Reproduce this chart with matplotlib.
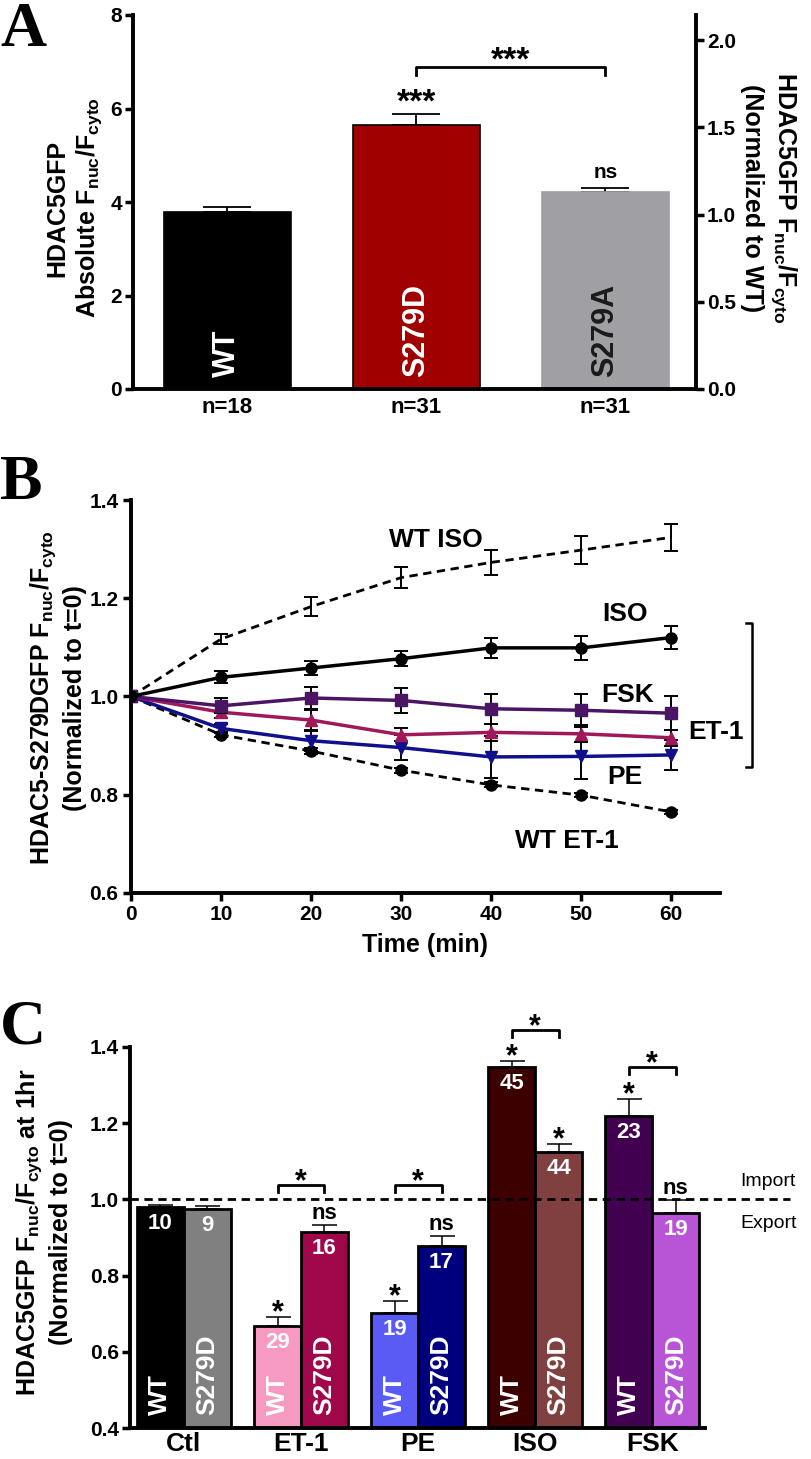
import matplotlib
matplotlib.use("Agg")
import matplotlib.pyplot as plt
import numpy as np

# ---------------- data ----------------
# Panel A
a_labels = ['WT', 'S279D', 'S279A']
a_ticks = ['n=18', 'n=31', 'n=31']
a_vals = [3.78, 5.64, 4.21]
a_err = [0.11, 0.24, 0.09]
a_colors = ['#000000', '#A00000', '#A0A0A4']
a_text_colors = ['white', 'white', '#1a1a1a']

# Panel B
b_time = [0, 10, 20, 30, 40, 50, 60]
b_wt_iso = [1.0, 1.117, 1.183, 1.242, 1.273, 1.298, 1.324]
b_wt_iso_err = [0, 0.011, 0.019, 0.022, 0.025, 0.028, 0.027]
b_iso = [1.0, 1.039, 1.058, 1.077, 1.099, 1.099, 1.120]
b_iso_err = [0, 0.012, 0.015, 0.015, 0.021, 0.024, 0.024]
b_fsk = [1.0, 0.981, 0.997, 0.992, 0.975, 0.972, 0.966]
b_fsk_err = [0, 0.015, 0.023, 0.025, 0.030, 0.034, 0.034]
b_et1 = [1.0, 0.968, 0.952, 0.922, 0.927, 0.924, 0.916]
b_et1_err = [0, 0.012, 0.020, 0.013, 0.017, 0.017, 0.016]
b_pe = [1.0, 0.935, 0.910, 0.896, 0.877, 0.878, 0.881]
b_pe_err = [0, 0.010, 0.020, 0.025, 0.042, 0.045, 0.030]
b_wt_et1 = [1.0, 0.922, 0.889, 0.850, 0.820, 0.799, 0.765]
b_wt_et1_err = [0, 0.005, 0.006, 0.005, 0.005, 0.004, 0.004]

# Panel C
c_groups = ['Ctl', 'ET-1', 'PE', 'ISO', 'FSK']
c_wt = [0.981, 0.668, 0.701, 1.348, 1.218]
c_wt_err = [0.003, 0.023, 0.033, 0.015, 0.046]
c_mut = [0.974, 0.915, 0.878, 1.125, 0.963]
c_mut_err = [0.008, 0.018, 0.027, 0.020, 0.035]
c_wt_n = ['10', '29', '19', '45', '23']
c_mut_n = ['9', '16', '17', '44', '19']
c_wt_sig = ['', '*', '*', '*', '*']
c_mut_sig = ['', 'ns', 'ns', '*', 'ns']
c_pair_sig = ['', '*', '*', '*', '*']
c_pair_y = [None, 1.0375, 1.0375, 1.444, 1.348]
c_wt_colors = ['#000000', '#F79AC2', '#5A5AF5', '#3D0000', '#420050']
c_mut_colors = ['#808080', '#A0074A', '#00007F', '#80403F', '#B855D6']

# ---------------- style ----------------
plt.rcParams['mathtext.fontset'] = 'custom'
plt.rcParams['mathtext.rm'] = 'Liberation Sans:bold'
plt.rcParams['mathtext.bf'] = 'Liberation Sans:bold'
plt.rcParams['mathtext.it'] = 'Liberation Sans:bold'
plt.rcParams['mathtext.default'] = 'bf'
NARROW = ['Liberation Sans Narrow', 'Liberation Sans', 'DejaVu Sans']
SANS = ['Liberation Sans', 'DejaVu Sans']
SERIF = ['Liberation Serif', 'DejaVu Serif']
plt.rcParams['font.family'] = NARROW

W, H = 812, 1459
fig = plt.figure(figsize=(W/100, H/100), dpi=100)

def style_ticks(ax, size=15):
    for lab in ax.get_xticklabels() + ax.get_yticklabels():
        lab.set_fontfamily(NARROW)
        lab.set_fontweight('bold')
        lab.set_fontsize(size)

def side_label(x, y, s, rot=90):
    fig.text(x / W, 1 - y / H, s, rotation=rot, ha='center', va='center',
             multialignment='center', fontsize=18, fontweight='bold',
             family=SANS, linespacing=1.25)

# ================= Panel A =================
axA = fig.add_axes([133/W, 1-389/H, (696-133)/W, (389-15)/H])
xa = np.arange(len(a_labels))
axA.bar(xa, a_vals, width=0.67, color=a_colors,
        edgecolor=['black', 'black', a_colors[2]], linewidth=1.2, zorder=2)
for i in range(len(xa)):
    axA.errorbar(xa[i], a_vals[i], yerr=[[0], [a_err[i]]], fmt='none',
                 ecolor='black', elinewidth=1.3, capsize=17, capthick=1.3, zorder=1)
    axA.text(xa[i], 0.25, a_labels[i], rotation=90, ha='center', va='bottom',
             color=a_text_colors[i], fontsize=22, fontweight='bold', family=SANS)
axA.set_xlim(-0.5, 2.48)
axA.set_ylim(0, 8)
axA.set_yticks([0, 2, 4, 6, 8])
axA.set_xticks(xa)
axA.set_xticklabels(a_ticks)
axA.tick_params(axis='x', length=0, pad=6)
axA.tick_params(axis='y', length=6, width=2.5, direction='out', pad=2)
for s in ['top', 'right']:
    axA.spines[s].set_visible(False)
for s in ['left', 'bottom']:
    axA.spines[s].set_linewidth(2.8)
style_ticks(axA, 15)
for lab in axA.get_xticklabels():
    lab.set_fontsize(16)
side_label(75, 208, 'HDAC5GFP\nAbsolute F$_{nuc}$/F$_{cyto}$')
# significance
axA.text(1, 5.78, '***', ha='center', va='bottom', fontsize=24, fontweight='bold', family=SANS)
axA.text(2, 4.42, 'ns', ha='center', va='bottom', fontsize=15, fontweight='bold', family=NARROW)
axA.plot([1, 1, 2, 2], [6.71, 6.88, 6.88, 6.71], color='black', lw=2)
axA.text(1.5, 6.68, '***', ha='center', va='bottom', fontsize=24, fontweight='bold', family=SANS)

axA2 = axA.twinx()
axA2.set_ylim(0, 8/3.73)
axA2.set_yticks([0.0, 0.5, 1.0, 1.5, 2.0])
axA2.set_yticklabels(['0.0', '0.5', '1.0', '1.5', '2.0'])
for s in ['top', 'left', 'bottom']:
    axA2.spines[s].set_visible(False)
axA2.spines['right'].set_linewidth(2.8)
axA2.tick_params(axis='y', length=6, width=2.5, direction='out', pad=2)
style_ticks(axA2, 15)
side_label(769, 198, 'HDAC5GFP F$_{nuc}$/F$_{cyto}$\n(Normalized to WT)', rot=270)

fig.text(0.0, 1-2/H, 'A', fontsize=46, fontweight='bold', family=SERIF, va='top', ha='left')

# ================= Panel B =================
axB = fig.add_axes([131/W, 1-893/H, (720-131)/W, (893-500)/H])
eb_kw = dict(capsize=5, elinewidth=1.4, capthick=1.4)
axB.errorbar(b_time, b_wt_iso, yerr=b_wt_iso_err, color='black', ls=(0, (3, 2)),
             lw=2, marker='', **eb_kw, zorder=3)
axB.errorbar(b_time, b_wt_et1, yerr=b_wt_et1_err, color='black', ls=(0, (3, 2)),
             lw=2, marker='o', ms=8, **eb_kw, zorder=3)
axB.errorbar(b_time, b_pe, yerr=b_pe_err, color='#10108C', ecolor='black', lw=2.5,
             marker='v', ms=8, **eb_kw, zorder=4)
axB.errorbar(b_time, b_et1, yerr=b_et1_err, color='#A0185A', ecolor='black', lw=2.5,
             marker='^', ms=8, **eb_kw, zorder=5)
axB.errorbar(b_time, b_fsk, yerr=b_fsk_err, color='#4B1464', ecolor='black', lw=2.5,
             marker='s', ms=8, **eb_kw, zorder=6)
axB.errorbar(b_time, b_iso, yerr=b_iso_err, color='black', ecolor='black', lw=2.5,
             marker='o', ms=8, **eb_kw, zorder=7)
axB.set_xlim(0, 65.4)
axB.set_ylim(0.6, 1.4)
axB.set_xticks(b_time)
axB.set_yticks([0.6, 0.8, 1.0, 1.2, 1.4])
axB.set_yticklabels(['0.6', '0.8', '1.0', '1.2', '1.4'])
for s in ['top', 'right']:
    axB.spines[s].set_visible(False)
for s in ['left', 'bottom']:
    axB.spines[s].set_linewidth(2.8)
axB.tick_params(axis='both', length=6, width=2.5, direction='out', pad=3)
style_ticks(axB, 15)
axB.set_xlabel('Time (min)', fontsize=18, fontweight='bold', family=NARROW, labelpad=6)
side_label(58, 698, 'HDAC5-S279DGFP F$_{nuc}$/F$_{cyto}$\n(Normalized to t=0)')
lab_kw = dict(fontsize=19, fontweight='bold', family=NARROW, ha='center', va='center')
axB.text(33.8, 1.319, 'WT ISO', **lab_kw)
axB.text(54.8, 1.167, 'ISO', **lab_kw)
axB.text(55.1, 1.004, 'FSK', **lab_kw)
axB.text(65.0, 0.927, 'ET-1', **lab_kw)
axB.text(54.8, 0.837, 'PE', **lab_kw)
axB.text(48.4, 0.705, 'WT ET-1', **lab_kw)
axB.plot([68.3, 69.0, 69.0, 68.3], [1.149, 1.149, 0.856, 0.856], color='black', lw=1.8,
         clip_on=False)

fig.text(0.0, 1-455/H, 'B', fontsize=46, fontweight='bold', family=SERIF, va='top', ha='left')

# ================= Panel C =================
axC = fig.add_axes([130/W, 1-1428/H, (705-130)/W, (1428-1047)/H])
xc = np.arange(len(c_groups))
bw = 0.40
xw = xc - bw/2
xm = xc + bw/2
axC.bar(xw, np.array(c_wt) - 0.4, bottom=0.4, width=bw, color=c_wt_colors,
        edgecolor='black', linewidth=2, zorder=2)
axC.bar(xm, np.array(c_mut) - 0.4, bottom=0.4, width=bw, color=c_mut_colors,
        edgecolor='black', linewidth=2, zorder=2)
for i in range(len(xc)):
    axC.errorbar(xw[i], c_wt[i], yerr=[[0], [c_wt_err[i]]], fmt='none', ecolor='black',
                 elinewidth=1.1, capsize=9, capthick=1.1, zorder=1)
    axC.errorbar(xm[i], c_mut[i], yerr=[[0], [c_mut_err[i]]], fmt='none', ecolor='black',
                 elinewidth=1.1, capsize=9, capthick=1.1, zorder=1)
    axC.text(xw[i], c_wt[i] - 0.043, c_wt_n[i], ha='center', va='center', color='white',
             fontsize=16, fontweight='bold', family=NARROW, zorder=3)
    axC.text(xm[i], c_mut[i] - 0.043, c_mut_n[i], ha='center', va='center', color='white',
             fontsize=16, fontweight='bold', family=NARROW, zorder=3)
    axC.text(xw[i], 0.434, 'WT', rotation=90, ha='center', va='bottom', color='white',
             fontsize=19, fontweight='bold', family=SANS, zorder=3)
    axC.text(xm[i], 0.434, 'S279D', rotation=90, ha='center', va='bottom', color='white',
             fontsize=19, fontweight='bold', family=SANS, zorder=3)
    for xx, v, e, s in [(xw[i], c_wt[i], c_wt_err[i], c_wt_sig[i]),
                        (xm[i], c_mut[i], c_mut_err[i], c_mut_sig[i])]:
        if s == '*':
            axC.text(xx, v + e + 0.009, s, ha='center', va='center', fontsize=22,
                     fontweight='bold', family=SANS)
        elif s == 'ns':
            axC.text(xx, v + e + 0.03, s, ha='center', va='center', fontsize=16,
                     fontweight='bold', family=NARROW)
    if c_pair_sig[i]:
        yb = c_pair_y[i]
        axC.plot([xw[i], xw[i], xm[i], xm[i]], [yb - 0.018, yb, yb, yb - 0.018],
                 color='black', lw=2, clip_on=False)
        axC.text(xc[i], yb + 0.007, c_pair_sig[i], ha='center', va='center', fontsize=22,
                 fontweight='bold', family=SANS)
axC.plot([-0.46, 5.18], [1.0, 1.0], color='black', ls=(0, (3, 2)), lw=2, clip_on=False, zorder=4)
axC.text(4.99, 1.048, 'Import', ha='center', va='center', fontsize=14, family=NARROW)
axC.text(4.99, 0.938, 'Export', ha='center', va='center', fontsize=14, family=NARROW)
axC.set_xlim(-0.46, 4.45)
axC.set_ylim(0.4, 1.4)
axC.set_yticks([0.4, 0.6, 0.8, 1.0, 1.2, 1.4])
axC.set_yticklabels(['0.4', '0.6', '0.8', '1.0', '1.2', '1.4'])
axC.set_xticks(xc)
axC.set_xticklabels(c_groups)
for s in ['top', 'right']:
    axC.spines[s].set_visible(False)
for s in ['left', 'bottom']:
    axC.spines[s].set_linewidth(2.8)
axC.tick_params(axis='y', length=6, width=2.5, direction='out', pad=2)
axC.tick_params(axis='x', length=0, pad=3)
style_ticks(axC, 15)
for lab in axC.get_xticklabels():
    lab.set_fontsize(19)
side_label(44, 1232, 'HDAC5GFP F$_{nuc}$/F$_{cyto}$ at 1hr\n(Normalized to t=0)')

fig.text(0.0, 1-1000/H, 'C', fontsize=46, fontweight='bold', family=SERIF, va='top', ha='left')

fig.savefig('out.png', dpi=100)
